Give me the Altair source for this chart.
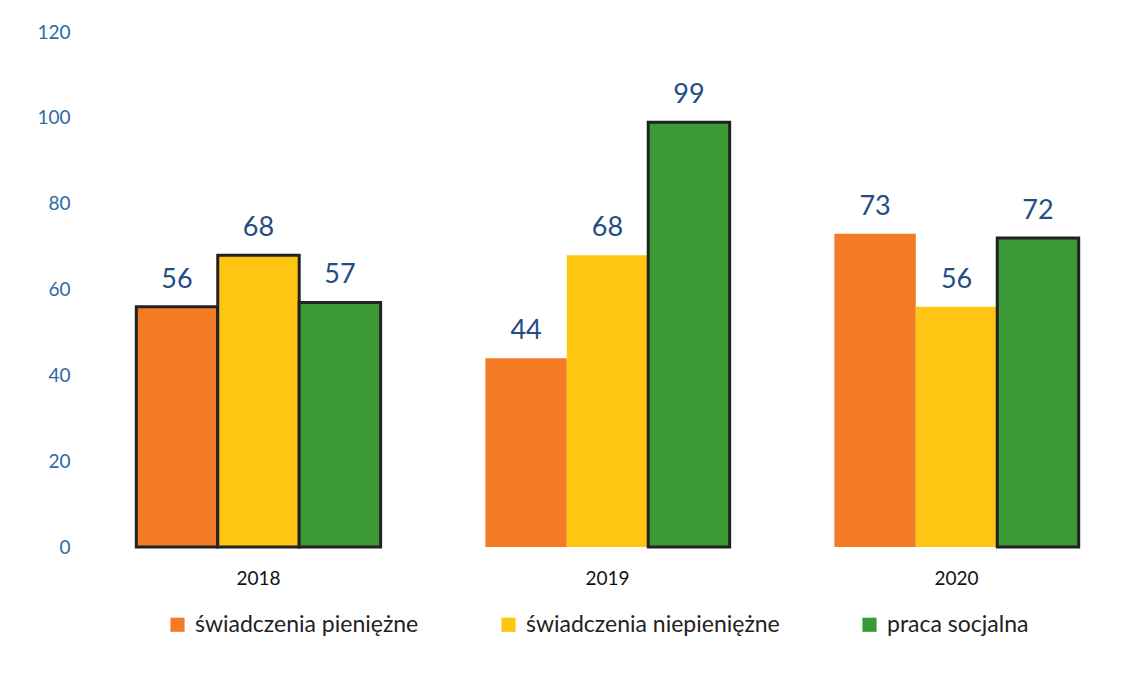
import altair as alt
import pandas as pd

lata = ["2018", "2019", "2020"]
serie = ["świadczenia pieniężne", "świadczenia niepieniężne", "praca socjalna"]
wartosci_pieniezne = [56, 44, 73]
wartosci_niepieniezne = [68, 68, 56]
wartosci_praca = [57, 99, 72]
kolory = ["#F47B25", "#FEC513", "#3B9936"]
# bars that show a dark edge in the scan
cien_pieniezne = [True, False, False]
cien_niepieniezne = [True, False, False]
cien_praca = [True, True, True]

rows = []
for s, vals, cien in zip(serie, [wartosci_pieniezne, wartosci_niepieniezne, wartosci_praca],
                         [cien_pieniezne, cien_niepieniezne, cien_praca]):
    for rok, v, c in zip(lata, vals, cien):
        rows.append({"rok": rok, "seria": s, "wartosc": v, "cien": c})
df = pd.DataFrame(rows)

FONT = "Lato"

x = alt.X("rok:N", sort=lata, title=None,
          scale=alt.Scale(paddingInner=0.3, paddingOuter=0.147),
          axis=alt.Axis(labelAngle=0, domain=False, ticks=False, labelFontSize=19,
                        labelColor="#111111", labelPadding=22, labelFont=FONT))
y = alt.Y("wartosc:Q", title=None,
          scale=alt.Scale(domain=[0, 120]),
          axis=alt.Axis(values=[0, 20, 40, 60, 80, 100, 120], grid=False, domain=False,
                        ticks=False, labelFontSize=19, labelColor="#2E6AA3",
                        labelPadding=15, labelFont=FONT))
xoff = alt.XOffset("seria:N", sort=serie)

base = alt.Chart(df)

bars = base.mark_bar(stroke="#222222").encode(
    x=x, y=y, xOffset=xoff,
    color=alt.Color("seria:N", sort=serie,
                    scale=alt.Scale(domain=serie, range=kolory),
                    legend=alt.Legend(title=None, orient="none", legendX=81, legendY=581,
                                      direction="horizontal", symbolType="square",
                                      symbolSize=200, labelFontSize=23, labelFont=FONT,
                                      labelColor="#222222", columnPadding=78,
                                      labelLimit=400, symbolStrokeWidth=0,
                                      labelOffset=6)),
    strokeWidth=alt.condition("datum.cien", alt.value(3), alt.value(0)),
)

labels = base.mark_text(baseline="bottom", dy=-13, fontSize=27, font=FONT,
                        color="#1F4E85").encode(
    x=x, y=y, xOffset=xoff, text="wartosc:Q")

chart = (bars + labels).properties(
    width=1045, height=515,
    background="white",
    autosize=alt.AutoSizeParams(type="none"),
    padding={"left": 77, "top": 24, "right": 0, "bottom": 120},
).configure_view(stroke=None, strokeWidth=0)

chart.save("out.html", embed_options={"renderer": "svg", "actions": False})
